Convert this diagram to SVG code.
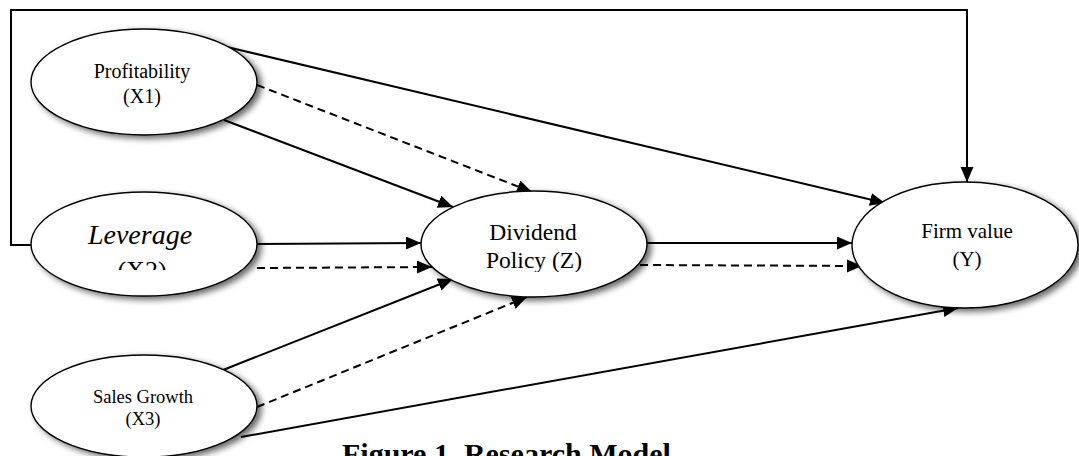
<svg xmlns="http://www.w3.org/2000/svg" width="1079" height="456" viewBox="0 0 1079 456">
  <style>
    .node { fill: #fff; stroke: #000; stroke-width: 1.4; filter: url(#shadow); }
    .lbl { font-family: "Liberation Serif", "Times New Roman", serif; fill: #000; text-anchor: middle; }
    .edge { fill: none; stroke: #000; stroke-width: 2; marker-end: url(#arrow); }
    .dash { stroke-dasharray: 8 5; }
    .title { font-family: "Liberation Serif", "Times New Roman", serif; font-weight: bold; font-size: 30px; fill: #000; }
  </style>
  <defs>
    <filter id="shadow" x="-20%" y="-20%" width="150%" height="160%">
      <feGaussianBlur in="SourceAlpha" stdDeviation="3"/>
      <feOffset dx="4" dy="3" result="b"/>
      <feComponentTransfer><feFuncA type="linear" slope="0.6"/></feComponentTransfer>
      <feMerge><feMergeNode/><feMergeNode in="SourceGraphic"/></feMerge>
    </filter>
    <marker id="arrow" markerUnits="userSpaceOnUse" markerWidth="16" markerHeight="14" refX="15" refY="6.5" orient="auto">
      <path d="M0,0 L15,6.5 L0,13 Z" fill="#000"/>
    </marker>
    <clipPath id="clipX2"><rect x="30" y="190" width="230" height="80"/></clipPath>
    <clipPath id="clipZ"><rect x="420" y="190" width="230" height="82"/></clipPath>
  </defs>

  <g id="connectors">
    <path class="edge" d="M31,245 H11 V10 H967 V182"/>
    <path class="edge" d="M227,47 L885,203"/>
    <path class="edge dash" d="M257,85 L532,192"/>
    <path class="edge" d="M224,120 L453,207"/>
    <path class="edge" d="M257,244 L421,243"/>
    <path class="edge dash" d="M257,268 L432,267"/>
    <path class="edge" d="M223,370 L453,279"/>
    <path class="edge dash" d="M257,407 L527,297"/>
    <path class="edge" d="M241,437 L958,308"/>
    <path class="edge" d="M647,243 L852,243"/>
    <path class="edge dash" d="M640,265 L862,266"/>
  </g>

  <g id="node-x1">
    <ellipse class="node" cx="144" cy="82" rx="113" ry="53"/>
    <text class="lbl" x="142" y="78" font-size="20">Profitability</text>
    <text class="lbl" x="142" y="103" font-size="20">(X1)</text>
  </g>

  <g id="node-x2">
    <ellipse class="node" cx="144" cy="244" rx="113" ry="52"/>
    <g clip-path="url(#clipX2)">
      <text class="lbl" x="140" y="244" font-size="28" font-style="italic">Leverage</text>
      <text class="lbl" x="142" y="279" font-size="26">(X2)</text>
    </g>
  </g>

  <g id="node-x3">
    <ellipse class="node" cx="144" cy="406" rx="113" ry="51"/>
    <text class="lbl" x="143" y="403" font-size="18.5">Sales Growth</text>
    <text class="lbl" x="143" y="425" font-size="18.5">(X3)</text>
  </g>

  <g id="node-z">
    <ellipse class="node" cx="534" cy="244" rx="113" ry="53"/>
    <g clip-path="url(#clipZ)">
      <text class="lbl" x="533" y="240" font-size="23.5">Dividend</text>
      <text class="lbl" x="534" y="268" font-size="23.5">Policy (Z)</text>
    </g>
  </g>

  <g id="node-y">
    <ellipse class="node" cx="965" cy="245" rx="113" ry="63"/>
    <text class="lbl" x="967" y="238" font-size="21">Firm value</text>
    <text class="lbl" x="967" y="266" font-size="21">(Y)</text>
  </g>

  <text class="title" x="342" y="464">Figure 1. Research Model</text>
</svg>
